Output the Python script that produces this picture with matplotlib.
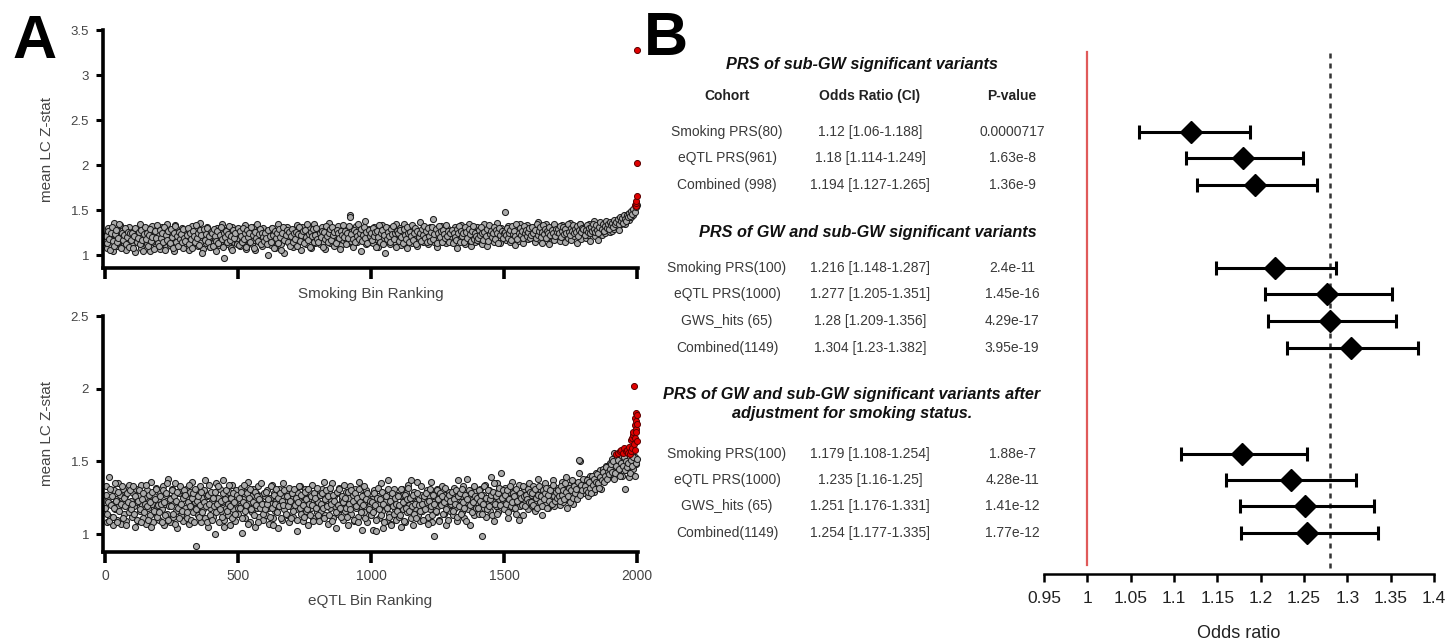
import numpy as np
import matplotlib.pyplot as plt
import matplotlib.transforms as mtransforms

plt.rcParams['font.family'] = ['Liberation Sans', 'DejaVu Sans']

# ---- Panel A data: mean LC Z-stat (x100) per bin ----
# bins 0, 4, 8, ...
smk_rank = np.arange(0, 2000, 4)
smk_z = np.array("""
115 122 108 130 119 112 125 104 136 118 121 110 127 116 133 109 120 124 113 129 106 118 131 115 122
111 126 119 103 128 117 122 113 134 108 120 125 116 130 112 119 127 105 121 132 114 118 124 110 129
117 123 107 131 120 114 126 109 135 118 122 111 128 115 121 104 133 119 124 112 127 116 130 108 120
125 113 119 129 106 122 117 132 111 124 118 128 110 121 136 115 120 107 126 119 113 131 117 123 109
120 127 114 118 105 130 122 111 125 116 134 119  97 121 128 112 117 124 108 131 119 115 126 121 113
118 124 110 129 116 122 133 107 120 125 114 119 128 112 131 117 106 123 120 127 115 121 110 130 118
122 114 127 100 119 124 111 130 117 126 108 121 135 116 123 112 128 119 102 125 118 131 114 120 127
116 123 109 129 120 133 114 125 118 106 131 121 115 127 112 124 119 130 108 122 117 134 113 126 120
121 128 112 119 131 115 124 107 127 120 136 113 122 118 129 110 125 121 116 132 119 123 111 128 117
124 118 130 113 121 145 116 127 109 123 119 132 114 125 120 104 128 117 122 138 112 126 119 129 115
120 126 113 131 118 124 109 129 122 115 133 119 127 102 121 125 117 130 112 124 119 128 114 135 121
117 123 130 111 126 120 134 115 122 108 128 119 125 113 131 121 116 127 110 124 120 137 118 126 114
123 119 128 112 125 131 117 122 140 114 126 120 109 129 118 124 132 115 121 127 113 130 119 125 122
118 127 114 124 131 120 108 126 119 133 116 123 128 112 121 125 117 135 122 110 129 120 126 115 131
124 116 129 121 112 127 134 119 123 110 126 131 117 122 128 114 125 121 136 118 124 113 130 122 127
120 148 117 126 132 114 123 129 119 125 111 130 122 127 116 135 121 124 113 128 120 133 118 126 123
126 119 131 122 115 128 124 137 118 125 130 113 127 121 134 119 124 112 129 126 120 132 117 125 128
122 129 116 125 133 120 127 114 131 123 119 128 136 117 124 130 121 126 113 129 122 134 118 127 124
125 131 119 127 122 134 116 128 124 138 121 129 126 117 132 125 130 122 135 127 124 131 128 136 126
130 127 135 129 133 138 131 136 128 140 134 139 137 143 135 141 146 139 144 142 148 145 150 152 154
""".split(), dtype=float) / 100
# bins 2, 6, 10, ...
smk_rank2 = np.arange(2, 2000, 4)
smk_z2 = np.array("""
121 113 127 118 106 124 131 116 110 123 128 114 119 134 108 125 117 122 130 112 120 126 109 124 117
124 108 121 130 115 119 126 112 128 117 105 123 131 118 125 110 122 129 116 120 107 127 119 133 113
110 128 119 124 114 131 106 122 117 127 113 129 120 108 125 132 115 121 110 126 118 123 114 129 119
116 122 130 112 125 118 108 127 121 114 133 119 124 111 128 122 102 129 117 123 130 114 121 109 126
124 110 129 121 116 127 113 122 131 118 109 125 120 127 114 123 132 117 121 106 128 119 124 112 130
111 127 121 115 130 118 124 109 128 120 125 114 131 122 108 126 119 134 116 123 129 112 125 120 116
125 119 112 128 121 114 130 122 108 127 119 124 113 129 120 106 124 131 117 122 128 115 126 110 121
129 114 124 118 126 110 123 131 116 122 127 113 128 120 134 117 123 109 126 121 129 115 122 130 118
114 125 120 127 109 126 118 132 121 115 124 129 117 131 122 126 113 128 124 119 107 127 122 133 120
127 112 125 119 132 142 123 118 128 114 126 121 135 118 124 129 116 122 131 119 126 113 128 121 124
117 130 121 126 109 127 120 133 115 124 128 112 122 131 118 126 121 114 129 123 132 118 125 109 127
124 116 128 120 113 129 122 118 131 125 114 126 121 133 117 124 130 112 127 120 125 116 129 122 132
119 127 114 130 121 116 126 131 118 123 129 113 125 132 120 127 114 128 123 119 133 121 127 115 124
128 113 125 120 117 129 124 132 115 127 121 124 114 131 126 119 129 123 116 127 132 118 125 121 117
119 128 122 131 124 117 126 121 129 116 133 123 127 120 125 131 118 128 124 113 130 122 127 119 125
126 122 130 119 124 128 117 132 123 127 121 135 118 125 130 122 127 119 132 124 128 121 126 130 119
122 131 125 128 119 134 122 127 131 120 126 133 123 129 119 127 124 131 122 128 125 134 121 129 126
129 124 132 120 127 131 123 129 124 135 126 122 130 127 133 124 129 126 132 121 128 135 126 130 129
122 128 133 126 130 124 131 127 135 129 126 133 128 124 131 137 129 134 127 132 138 130 134 129 137
133 136 131 139 134 137 140 135 142 138 141 136 144 140 138 145 142 147 143 149 146 151 148 153 156
""".split(), dtype=float) / 100
smk_red_rank = [1993, 1995, 1996, 1997, 1998, 1999, 2000]
smk_red_z = [1.56, 1.55, 1.58, 1.60, 1.66, 2.02, 3.28]

eqtl_rank = np.arange(0, 2000, 4)
eqtl_z = np.array("""
118 133 108 125 139 112 121 106 130 117 124 110 135 119 127 107 122 131 114 126 109 120 134 116 123
112 128 119 105 131 122 109 127 116 134 120 111 125 107 130 118 123 113 136 121 108 126 115 132 119
124 110 129 117 133 106 121 127 114 138 119 108 125 131 112 122 135 116 104 128 120 113 130 109 126
118 131 111 124 107 129 120 136 115 122  92 127 113 119 133 108 125 117 130 111 121 126 105 134 118
123 112 128 100 135 119 125 108 131 116 122 137 110 126 118 113 129 106 121 134 117 124 109 130 120
114 127 119 132 101 124 111 129 117 136 122 108 126 115 131 120 105 128 118 133 112 123 127 110 121
126 113 130 118 107 125 121 134 111 128 116 123 104 131 119 126 110 135 117 122 129 113 120 108 127
119 124 112 130 117 102 128 121 133 114 126 109 122 131 116 125 106 129 118 134 111 123 120 127 115
122 109 127 116 131 120 136 113 125 107 129 118 123 135 111 126 119 104 128 114 132 121 117 124 110
116 129 121 106 125 133 114 120 127 109 131 118 124 112 136 119 103 127 115 122 130 108 125 117 121
113 124 103 130 118 102 126 111 121 135 116 104 128 119 123 109 137 114 125 107 120 131 117 110 127
119 112 126 105 131 117 123 108 128 115 134 120 111 125 106 129 118 122 136 113 124 109 127 116 121
124 119 130 112 126 117 136 108 122  99 128 115 131 119 110 125 121 133 114 127 106 123 118 129 116
121 127 113 132 118 124 109 137 120 126 115 133 111 128 122 138 117 125 106 130 119 124 113 129 121
126 114 131 120  99 127 118 134 112 125 121 130 116 139 123 109 128 119 135 115 124 131 142 127 122
120 132 117 126 111 129 123 136 118 125 130 114 127 121 134 119 124 128 113 131 122 126 117 135 123
127 119 133 122 116 129 125 138 120 131 124 113 128 135 121 126 118 132 125 129 122 137 119 127 131
124 132 120 128 136 122 130 126 139 118 129 134 124 131 127 121 135 129 125 133 142 150 128 136 131
128 135 130 138 126 133 140 131 137 129 135 142 133 139 136 144 131 138 145 140 137 147 142 139 149
141 152 145 138 150 147 153 143 149 155 146 140 151 148 131 144 152 139 147 150 158 145 150 153 148
""".split(), dtype=float) / 100
eqtl_rank2 = np.arange(2, 2000, 4)
eqtl_z2 = np.array("""
127 114 122 109 131 120 126 112 118 135 123 108 129 116 121 133 111 125 119 106 128 122 115 130 117
121 133 114 126 110 123 130 117 108 124 128 115 121 134 119 110 127 122 105 129 116 124 131 112 120
115 126 121 108 130 122 113 128 135 110 124 119 130 114 126 107 123 129 118 111 133 121 116 125 130
127 115 122 134 119 110 125 128 108 131 117 123 126 112 120 129 115 122 137 119 108 127 121 113 129
110 125 119 129 115 121 133 117 123 112 128 105 124 130 116 121 134 119 125 111 128 122 114 127 118
125 118 129 111 122 134 116 120 128 107 125 131 117 122 113 129 120 126 108 124 118 135 121 114 128
117 129 121 124 112 133 118 106 127 121 131 115 125 119 128 111 123 120 130 114 126 119 132 123 111
128 116 131 120 125 110 122 133 118 127 120 112 129 124 117 131 121 113 126 120 109 128 125 118 132
113 127 121 128 118 111 124 130 119 126 113 132 121 109 127 123 115 129 120 131 118 112 126 122 134
125 118 112 129 121 117 130 123 110 128 119 125 108 131 122 115 126 120 133 111 124 128 117 123 113
122 115 128 120 110 125 132 117 124 113 129 121 108 126 118 131 112 123 106 128 119 114 125 121 116
126 120 113 131 122 109 127 118 124 132 116 125 137 119 127 114 121 111 128 120 116 133 121 110 126
117 128 122 107 123 131 119 113 127 121 116 130 124 109 128 120 126 114 122 132 117 125 110 127 123
129 116 124 121 130 112 126 119 128 114 131 122 118 127 109 124 130 120 128 115 122 133 126 118 125
118 130 123 127 114 121 133 125 117 130 119 124 127 113 129 135 121 126 114 128 132 120 125 130 117
127 121 130 115 124 133 119 122 128 126 118 131 123 110 128 125 120 133 126 119 127 124 131 122 129
122 128 120 131 125 118 127 133 122 126 119 130 124 128 132 118 127 123 130 121 134 126 123 129 125
130 126 123 133 127 130 124 135 129 126 132 122 130 137 125 133 128 131 124 136 151 127 134 130 138
133 130 137 129 136 132 128 140 134 138 131 136 141 135 132 139 137 143 136 140 146 138 143 141 145
148 143 150 156 142 147 151 145 140 149 154 147 153 144 150 146 149 157 142 151 147 153 140 149 152
""".split(), dtype=float) / 100
eqtl_red_rank = [1922, 1928, 1935, 1940, 1946, 1952, 1958, 1962, 1966, 1970, 1974, 1976, 1978, 1980, 1982,
                 1984, 1986, 1988, 1990, 1991, 1992, 1993, 1994, 1995, 1996, 1997, 1998, 1999, 2000, 1989]
eqtl_red_z = [1.55, 1.56, 1.57, 1.58, 1.56, 1.59, 1.57, 1.58, 1.56, 1.60, 1.55, 1.65, 1.57, 1.66, 1.59,
              1.68, 1.70, 1.62, 1.75, 1.58, 1.80, 1.66, 1.72, 1.78, 1.70, 1.83, 1.64, 1.82, 1.76, 2.02]

# ---- Panel B data ----
cohorts = ['Smoking PRS(80)', 'eQTL PRS(961)', 'Combined (998)',
           'Smoking PRS(100)', 'eQTL PRS(1000)', 'GWS_hits (65)', 'Combined(1149)',
           'Smoking PRS(100)', 'eQTL PRS(1000)', 'GWS_hits (65)', 'Combined(1149)']
or_labels = ['1.12 [1.06-1.188]', '1.18 [1.114-1.249]', '1.194 [1.127-1.265]',
             '1.216 [1.148-1.287]', '1.277 [1.205-1.351]', '1.28 [1.209-1.356]', '1.304 [1.23-1.382]',
             '1.179 [1.108-1.254]', '1.235 [1.16-1.25]', '1.251 [1.176-1.331]', '1.254 [1.177-1.335]']
p_labels = ['0.0000717', '1.63e-8', '1.36e-9',
            '2.4e-11', '1.45e-16', '4.29e-17', '3.95e-19',
            '1.88e-7', '4.28e-11', '1.41e-12', '1.77e-12']
or_est = [1.12, 1.18, 1.194, 1.216, 1.277, 1.28, 1.304, 1.179, 1.235, 1.251, 1.254]
ci_low = [1.06, 1.114, 1.127, 1.148, 1.205, 1.209, 1.23, 1.108, 1.16, 1.176, 1.177]
ci_high = [1.188, 1.249, 1.265, 1.287, 1.351, 1.356, 1.382, 1.254, 1.31, 1.331, 1.335]
section_titles = ['PRS of sub-GW significant variants',
                  'PRS of GW and sub-GW significant variants',
                  'PRS of GW and sub-GW significant variants after\nadjustment for smoking status.']

# layout (pixel rows of the table / forest plot)
row_y = [132, 158, 185, 268, 294, 321, 348, 454, 480, 506, 533]
title_y = [65, 232, 404]
W, H = 1447, 642

fig = plt.figure(figsize=(W / 100, H / 100), dpi=100)
tick_col = '#444444'


def scatter_panel(rect, ranks, zs, red_rank, red_z, ylim, yticks, xlabel, show_xlabels, xpad):
    ax = fig.add_axes(rect)
    for r, z in zip(ranks, zs):
        ax.scatter(r, z, s=19, facecolor='#ababab', edgecolor='#1c1c1c', linewidth=0.75, zorder=2, clip_on=False)
    ax.scatter(red_rank, red_z, s=19, facecolor='#e00000', edgecolor='#5a0000', linewidth=0.7, zorder=3, clip_on=False)
    ax.set_xlim(-8, 2003)
    ax.set_ylim(*ylim)
    ax.set_yticks(yticks)
    ax.set_yticklabels([f'{t:g}' for t in yticks])
    ax.set_xticks([0, 500, 1000, 1500, 2000])
    if not show_xlabels:
        ax.set_xticklabels([])
    for s in ['top', 'right']:
        ax.spines[s].set_visible(False)
    for s in ['left', 'bottom']:
        ax.spines[s].set_linewidth(2.6)
    ax.tick_params(axis='y', direction='out', length=5, width=2.2, labelsize=9.5, labelcolor=tick_col, pad=5)
    ax.tick_params(axis='x', direction='out', length=8, width=2.6, labelsize=10, labelcolor=tick_col, pad=4)
    ax.set_ylabel('mean LC Z-stat', fontsize=11, color=tick_col, labelpad=12)
    ax.set_xlabel(xlabel, fontsize=11, color=tick_col, labelpad=xpad)
    return ax


scatter_panel([103 / W, 1 - 268 / H, 535 / W, 238 / H], [smk_rank, smk_rank2], [smk_z, smk_z2],
              smk_red_rank, smk_red_z, (0.856, 3.5), [1, 1.5, 2, 2.5, 3, 3.5],
              'Smoking Bin Ranking', False, 1.5)
scatter_panel([103 / W, 1 - 552 / H, 535 / W, 236 / H], [eqtl_rank, eqtl_rank2], [eqtl_z, eqtl_z2],
              eqtl_red_rank, eqtl_red_z, (0.877, 2.5), [1, 1.5, 2, 2.5],
              'eQTL Bin Ranking', True, 8)

# ---- forest plot ----
axf = fig.add_axes([1044 / W, 1 - 574 / H, 390 / W, 534 / H])
axf.set_xlim(0.95, 1.4)
axf.set_ylim(574, 40)
err = [np.array(or_est) - np.array(ci_low), np.array(ci_high) - np.array(or_est)]
axf.errorbar(or_est, row_y, xerr=err, fmt='D', color='black', markersize=11,
             elinewidth=2.2, capsize=5, capthick=2.2, zorder=3)
axf.axvline(1, ymin=0.017, ymax=0.977, color='#e05a5a', linewidth=1.6)
axf.axvline(1.28, ymin=0.012, ymax=0.975, color='#333333', linewidth=1.8, linestyle=(0, (2, 2)))
axf.set_xticks(np.arange(0.95, 1.401, 0.05))
axf.set_xticklabels(['0.95', '1', '1.05', '1.1', '1.15', '1.2', '1.25', '1.3', '1.35', '1.4'])
axf.set_yticks([])
for s in ['top', 'right', 'left']:
    axf.spines[s].set_visible(False)
axf.spines['bottom'].set_linewidth(1.8)
axf.tick_params(axis='x', direction='out', length=6, width=1.8, labelsize=12.5, labelcolor='#222222', pad=6)
axf.set_xlabel('Odds ratio', fontsize=13, color='#222222', labelpad=14)

# ---- table text ----
tr = mtransforms.blended_transform_factory(fig.transFigure, axf.transData)
col_x = [727 / W, 870 / W, 1012 / W]
for name, orl, p, y in zip(cohorts, or_labels, p_labels, row_y):
    for cx, txt in zip(col_x, [name, orl, p]):
        axf.text(cx, y, txt, transform=tr, ha='center', va='center', fontsize=10,
                 color='#3a3a3a', clip_on=False)
for cx, txt in zip(col_x, ['Cohort', 'Odds Ratio (CI)', 'P-value']):
    axf.text(cx, 96, txt, transform=tr, ha='center', va='center', fontsize=10,
             fontweight='bold', color='#222222', clip_on=False)
for tx, txt, y in zip([862 / W, 868 / W, 852 / W], section_titles, title_y):
    axf.text(tx, y, txt, transform=tr, ha='center', va='center', fontsize=11.7, fontweight='bold',
             fontstyle='italic', color='#111111', linespacing=1.3, clip_on=False)

# panel letters
fig.text(12 / W, 1 - 58 / H, 'A', fontsize=44, fontweight='bold', va='baseline')
fig.text(644 / W, 1 - 55 / H, 'B', fontsize=44, fontweight='bold', va='baseline')

fig.savefig('out.png', dpi=100)
